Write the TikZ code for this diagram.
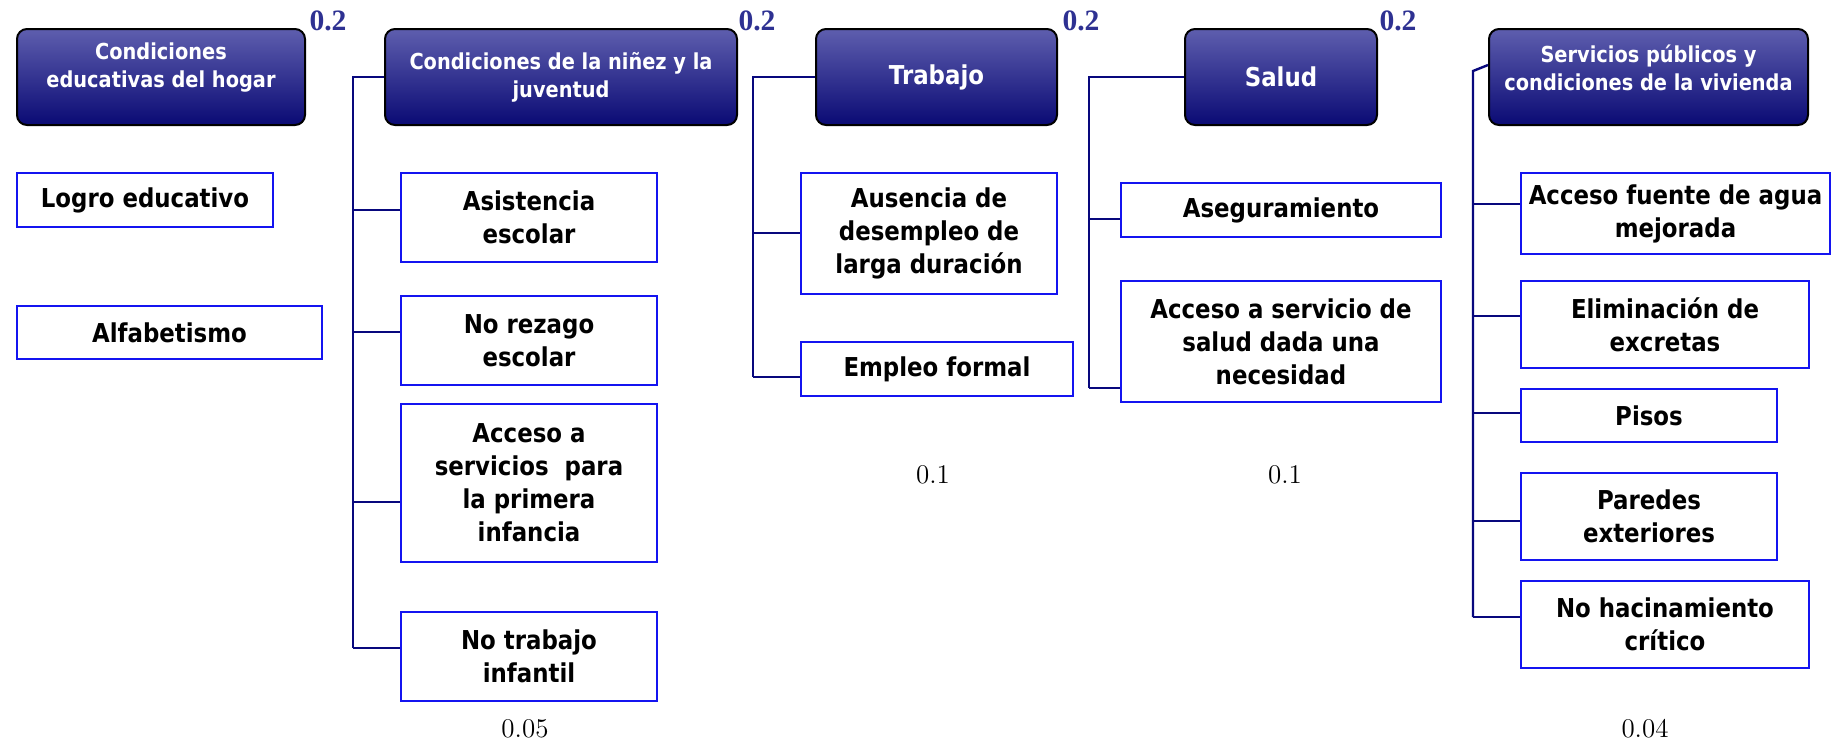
\documentclass[tikz,border=0pt]{standalone}
\usepackage{fontspec}
\newfontfamily\tahoma[FakeStretch=0.88]{DejaVu Sans}
\newfontfamily\numserif{Liberation Serif}
\definecolor{hdtop}{RGB}{94,94,174}
\definecolor{hdbot}{RGB}{10,10,116}
\definecolor{wcol}{RGB}{46,49,146}
\definecolor{lncol}{RGB}{8,8,125}
\definecolor{bxcol}{RGB}{20,20,240}
\begin{document}
\begin{tikzpicture}[x=0.5pt,y=-0.5pt,
  hdr/.style={draw=black, line width=1pt, rounded corners=5pt, top color=hdtop, bottom color=hdbot,
    minimum height=48pt, inner sep=0pt, align=center, text=white,
    font=\tahoma\bfseries\fontsize{11}{14}\selectfont},
  hdtext/.style={text=white, align=center, inner sep=0pt,
    font=\tahoma\bfseries\fontsize{11}{14}\selectfont},
  cbox/.style={draw=bxcol, line width=1pt, fill=white, inner sep=0pt, align=center,
    font=\tahoma\bfseries\fontsize{13}{16.5}\selectfont},
  conn/.style={draw=lncol, line width=1.2pt},
  wt/.style={text=wcol, inner sep=0pt, font=\numserif\bfseries\fontsize{14.8}{16}\selectfont},
  pct/.style={inner sep=0pt, font=\fontsize{13.5}{15}\selectfont}]
\useasboundingbox (0,0) rectangle (1832,741);

% headers
\node[hdr, minimum width=144pt, label={[hdtext,yshift=4.5pt]center:{Condiciones\\educativas del hogar}}] (h1) at (161,77) {};
\node[hdr, minimum width=176pt] (h2) at (561,77) {Condiciones de la niñez y la\\juventud};
\node[hdr, minimum width=120.5pt] (h3) at (936.5,77) {\fontsize{13}{15}\selectfont Trabajo};
\node[hdr, minimum width=96pt] (h4) at (1281,77) {\fontsize{13}{15}\selectfont Salud};
\node[hdr, minimum width=159.5pt, label={[hdtext,yshift=4.5pt]center:{Servicios públicos y\\condiciones de la vivienda}}] (h5) at (1648.5,77) {};

% weights
\node[wt] (w1) at (328,21) {0.2};
\node[wt] (w2) at (757,21) {0.2};
\node[wt] (w3) at (1081,21) {0.2};
\node[wt] (w4) at (1398,21) {0.2};

% group 1
\node[cbox, minimum width=128pt, minimum height=27pt] (logro) at (145,200) {Logro educativo};
\node[cbox, minimum width=152.5pt, minimum height=26.5pt] (alfa) at (169.5,332.5) {Alfabetismo};

% group 2
\node[cbox, minimum width=128pt, minimum height=44.5pt] (asis) at (529,217.5) {Asistencia\\escolar};
\node[cbox, minimum width=128pt, minimum height=44.5pt] (rez) at (529,340.5) {No rezago\\escolar};
\node[cbox, minimum width=128pt, minimum height=79pt] (acc) at (529,483) {Acceso a\\servicios\ \ para\\la primera\\infancia};
\node[cbox, minimum width=128pt, minimum height=44.5pt] (trab) at (529,656.5) {No trabajo\\infantil};
\node[pct] (p2) at (525,729) {0.05};

% group 3
\node[cbox, minimum width=128pt, minimum height=60.5pt] (aus) at (929,233.5) {Ausencia de\\desempleo de\\larga duración};
\node[cbox, minimum width=136pt, minimum height=27pt] (emp) at (937,369) {Empleo formal};
\node[pct] (p3) at (933,475) {0.1};

% group 4
\node[cbox, minimum width=160pt, minimum height=27pt] (ase) at (1281,210) {Aseguramiento};
\node[cbox, minimum width=160pt, minimum height=60.5pt] (accs) at (1281,341.5) {Acceso a servicio de\\salud dada una\\necesidad};
\node[pct] (p4) at (1285,475) {0.1};

% group 5
\node[cbox, minimum width=154.5pt, minimum height=40.5pt] (agua) at (1675.5,213.5) {Acceso fuente de agua\\mejorada};
\node[cbox, minimum width=144pt, minimum height=43.5pt] (elim) at (1665,324.5) {Eliminación de\\excretas};
\node[cbox, minimum width=128pt, minimum height=26.5pt] (pisos) at (1649,415.5) {Pisos};
\node[cbox, minimum width=128pt, minimum height=43.5pt] (par) at (1649,516.5) {Paredes\\exteriores};
\node[cbox, minimum width=144pt, minimum height=43.5pt] (hac) at (1665,624.5) {No hacinamiento\\crítico};
\node[pct] (p5) at (1645,729) {0.04};

% spines
\coordinate (s2) at (353,648);
\coordinate (s3) at (753,377);
\coordinate (s4) at (1089,388);
\coordinate (s5a) at (1473,71);
\coordinate (s5) at (1473,617);

\draw[conn] (h2.west) -| (s2);
\foreach \c/\y in {asis/210, rez/332, acc/502, trab/648}
  \draw[conn] (s2 |- 0,\y) -- (\c.west |- 0,\y);

\draw[conn] (h3.west) -| (s3);
\foreach \c/\y in {aus/233, emp/377}
  \draw[conn] (s3 |- 0,\y) -- (\c.west |- 0,\y);

\draw[conn] (h4.west) -| (s4);
\foreach \c/\y in {ase/219, accs/388}
  \draw[conn] (s4 |- 0,\y) -- (\c.west |- 0,\y);

\draw[conn] (h5.west |- 0,65) -- (s5a) -- (s5);
\foreach \c/\y in {agua/204, elim/316, pisos/413, par/521, hac/617}
  \draw[conn] (s5 |- 0,\y) -- (\c.west |- 0,\y);
\end{tikzpicture}
\end{document}
